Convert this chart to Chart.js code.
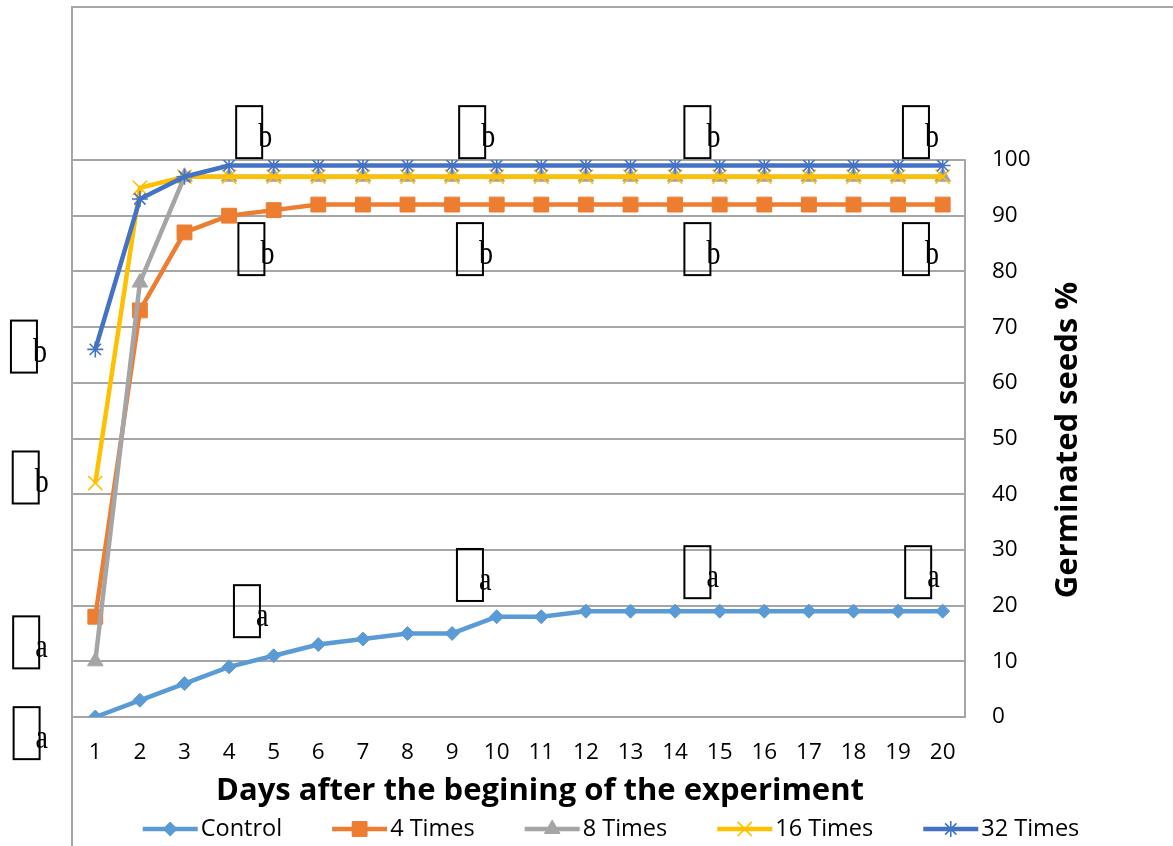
<!DOCTYPE html>
<html>
<head>
<meta charset="utf-8">
<script src="https://cdn.jsdelivr.net/npm/chart.js@4/dist/chart.umd.min.js"></script>
<style>
  body { margin: 0; background: #fff; }
  #wrap { width: 1173px; height: 846px; }
</style>
</head>
<body>
<div id="wrap"><canvas id="germ_chart" width="1173" height="846"></canvas></div>
<script>
const days = ['1', '2', '3', '4', '5', '6', '7', '8', '9', '10', '11', '12', '13', '14', '15', '16', '17', '18', '19', '20'];
const control = [0, 3, 6, 9, 11, 13, 14, 15, 15, 18, 18, 19, 19, 19, 19, 19, 19, 19, 19, 19];
const times4 = [18, 73, 87, 90, 91, 92, 92, 92, 92, 92, 92, 92, 92, 92, 92, 92, 92, 92, 92, 92];
const times8 = [10, 78, 97, 97, 97, 97, 97, 97, 97, 97, 97, 97, 97, 97, 97, 97, 97, 97, 97, 97];
const times16 = [42, 95, 97, 97, 97, 97, 97, 97, 97, 97, 97, 97, 97, 97, 97, 97, 97, 97, 97, 97];
const times32 = [66, 93, 97, 99, 99, 99, 99, 99, 99, 99, 99, 99, 99, 99, 99, 99, 99, 99, 99, 99];
const yTicks = [0, 10, 20, 30, 40, 50, 60, 70, 80, 90, 100];

// significance letters (day position, value position, letter)
const letterDay = [4.45, 9.45, 14.5, 19.4, 4.5, 9.4, 14.5, 19.4, -0.6, -0.56, -0.55, -0.54, 4.4, 9.4, 14.5, 19.45];
const letterVal = [105, 105, 105, 105, 84, 84, 84, 84, 66.5, 43, 13.4, -2.9, 19, 25.5, 26, 26];
const letterTxt = ['b', 'b', 'b', 'b', 'b', 'b', 'b', 'b', 'b', 'b', 'a', 'a', 'a', 'a', 'a', 'a'];

const SANS = "'Open Sans', 'Noto Sans', sans-serif";
const GRID = '#a6a6a6';

function series(label, data, color, style, radius, order) {
    return {
        label: label,
        data: data,
        borderColor: color,
        backgroundColor: color,
        borderWidth: 4.5,
        tension: 0,
        pointStyle: style,
        pointRadius: radius,
        pointHoverRadius: radius,
        pointBackgroundColor: color,
        pointBorderColor: color,
        pointBorderWidth: (style === 'star' || style === 'crossRot') ? 1.6 : 1,
        order: order,
    };
}

const sets = [
    series('Control', control, '#5B9BD5', 'rectRot', 7, 4),
    series('4 Times', times4, '#ED7D31', 'rect', 10.5, 3),
    series('8 Times', times8, '#A5A5A5', 'triangle', 9, 2),
    series('16 Times', times16, '#FFC000', 'crossRot', 10, 1),
    series('32 Times', times32, '#4472C4', 'star', 8, 0),
];

const extras = {
    id: 'extras',
    beforeDraw(chart) {
        const ctx = chart.ctx;
        const a = chart.chartArea;
        ctx.save();
        ctx.strokeStyle = GRID;
        ctx.lineWidth = 2;
        ctx.beginPath();
        ctx.moveTo(a.left - 1, chart.height);
        ctx.lineTo(a.left - 1, 7);
        ctx.lineTo(chart.width, 7);
        ctx.stroke();
        ctx.restore();
    },
    afterDraw(chart) {
        const ctx = chart.ctx;
        const x = chart.scales.x, y = chart.scales.y;
        ctx.save();
        // letter boxes
        for (let i = 0; i < letterTxt.length; i++) {
            const cx = x.getPixelForValue(letterDay[i] - 1);
            const cy = y.getPixelForValue(letterVal[i]);
            ctx.strokeStyle = '#000';
            ctx.lineWidth = 2;
            ctx.strokeRect(cx - 13, cy - 26, 26, 52);
            ctx.fillStyle = '#000';
            ctx.font = "33px 'Liberation Serif', serif";
            ctx.textAlign = 'left';
            ctx.textBaseline = 'alphabetic';
            ctx.save();
            ctx.translate(cx + 9, cy + 15);
            ctx.scale(0.85, 1);
            ctx.fillText(letterTxt[i], 0, 0);
            ctx.restore();
        }
        // axis titles
        ctx.fillStyle = '#000';
        ctx.font = "bold 31px " + SANS;
        ctx.textAlign = 'center';
        ctx.textBaseline = 'middle';
        ctx.fillText('Days after the begining of the experiment', 540, 791);
        ctx.save();
        ctx.translate(1068, 440);
        ctx.rotate(-Math.PI / 2);
        ctx.fillText('Germinated seeds %', 0, 0);
        ctx.restore();
        // legend
        ctx.font = "23.5px " + SANS;
        ctx.textAlign = 'left';
        const lineLen = 55, gap = 50;
        const widths = sets.map(d => lineLen + 3 + ctx.measureText(d.label).width);
        const total = widths.reduce((s, w) => s + w, 0) + gap * (sets.length - 1);
        let lx = 611 - total / 2;
        const ly = 829;
        sets.forEach((d, i) => {
            ctx.strokeStyle = d.borderColor;
            ctx.lineWidth = 4.5;
            ctx.beginPath();
            ctx.moveTo(lx, ly);
            ctx.lineTo(lx + lineLen, ly);
            ctx.stroke();
            ctx.fillStyle = d.pointBackgroundColor;
            ctx.strokeStyle = d.pointBorderColor;
            ctx.lineWidth = d.pointBorderWidth;
            Chart.helpers.drawPoint(ctx, {pointStyle: d.pointStyle, radius: d.pointRadius, borderWidth: d.pointBorderWidth, rotation: 0}, lx + lineLen / 2, ly);
            ctx.fillStyle = '#000';
            ctx.fillText(d.label, lx + lineLen + 3, ly);
            lx += widths[i] + gap;
        });
        ctx.restore();
    }
};

new Chart(document.getElementById('germ_chart'), {
    type: 'line',
    data: { labels: days, datasets: sets },
    options: {
        responsive: false,
        animation: false,
        layout: { padding: { top: 160, left: 73, right: 0, bottom: 0 } },
        plugins: { legend: { display: false }, tooltip: { enabled: false } },
        scales: {
            x: {
                offset: true,
                grid: { display: false, drawTicks: false },
                border: { display: false },
                ticks: { color: '#000', font: { family: SANS, size: 22.5 }, padding: 22, maxRotation: 0, autoSkip: false },
                afterFit: (axis) => { axis.height = 129; },
            },
            y: {
                position: 'right',
                min: 0,
                max: 100,
                afterBuildTicks: (axis) => { axis.ticks = yTicks.map(v => ({ value: v })); },
                grid: { color: GRID, lineWidth: 2, drawTicks: false },
                border: { display: true, color: GRID, width: 2 },
                ticks: { color: '#000', font: { family: SANS, size: 22.5 }, padding: 27 },
                afterFit: (axis) => { axis.width = 208; },
            },
        },
    },
    plugins: [extras],
});
</script>
</body>
</html>
